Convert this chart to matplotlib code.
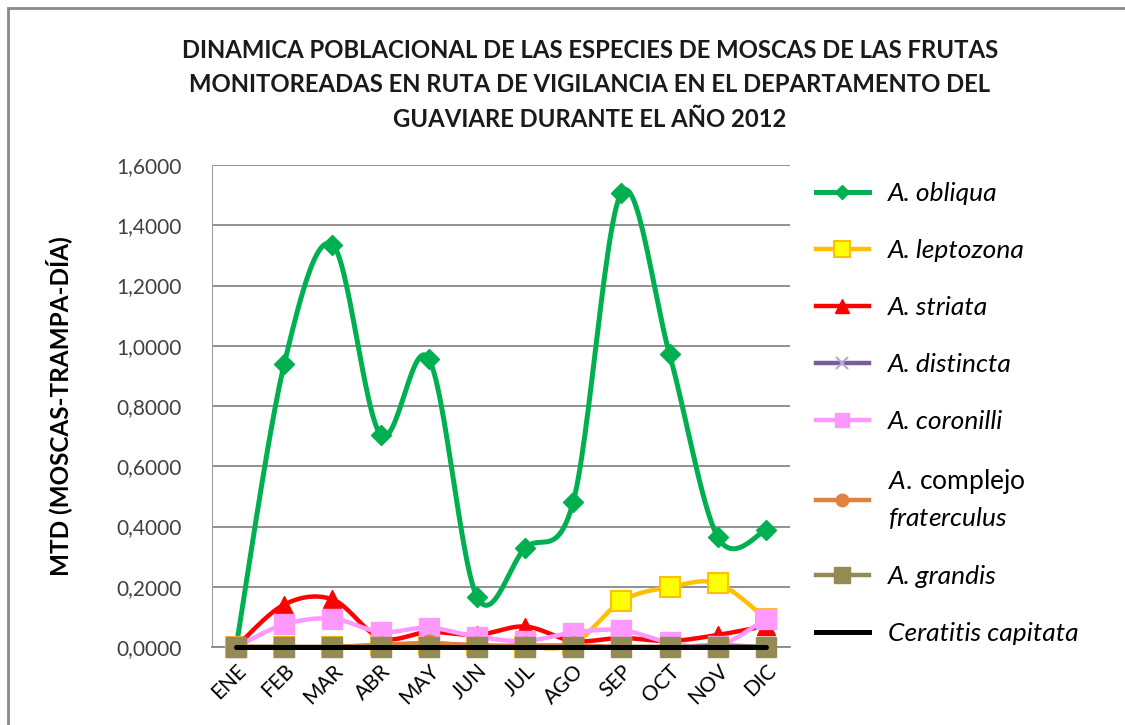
import numpy as np
import matplotlib
matplotlib.use("Agg")
import matplotlib.pyplot as plt
from matplotlib.lines import Line2D
from matplotlib.patches import Rectangle

plt.rcParams['font.family'] = ['Lato', 'DejaVu Sans']
plt.rcParams['mathtext.fontset'] = 'custom'
plt.rcParams['mathtext.it'] = 'Lato:italic'
plt.rcParams['mathtext.rm'] = 'Lato'

months = ["ENE", "FEB", "MAR", "ABR", "MAY", "JUN", "JUL", "AGO", "SEP", "OCT", "NOV", "DIC"]

obliqua     = [0.000, 0.940, 1.336, 0.705, 0.957, 0.167, 0.328, 0.482, 1.508, 0.971, 0.365, 0.387]
leptozona   = [0.000, 0.000, 0.000, 0.005, 0.010, 0.005, 0.000, 0.010, 0.152, 0.199, 0.211, 0.094]
striata     = [0.000, 0.141, 0.158, 0.030, 0.050, 0.040, 0.068, 0.020, 0.030, 0.020, 0.040, 0.070]
distincta   = [0.000, 0.000, 0.000, 0.005, 0.012, 0.005, 0.000, 0.000, 0.000, 0.000, 0.005, 0.000]
coronilli   = [0.000, 0.075, 0.094, 0.050, 0.064, 0.034, 0.020, 0.048, 0.056, 0.015, 0.003, 0.094]
fraterculus = [0.000, 0.000, 0.000, 0.008, 0.012, 0.005, 0.005, 0.005, 0.000, 0.000, 0.000, 0.000]
grandis     = [0.000] * 12
capitata    = [0.000] * 12

labels = ["A. obliqua", "A. leptozona", "A. striata", "A. distincta", "A. coronilli",
          "$\\mathit{A.}\\,\\mathrm{complejo}$\n$\\mathit{fraterculus}$", "A. grandis", "Ceratitis capitata"]

title = ("DINAMICA POBLACIONAL DE LAS ESPECIES DE MOSCAS DE LAS FRUTAS\n"
         "MONITOREADAS EN RUTA DE VIGILANCIA EN EL DEPARTAMENTO DEL\n"
         "GUAVIARE DURANTE EL AÑO 2012")
ylabel = "MTD (MOSCAS-TRAMPA-DÍA)"
yticks = [0.0, 0.2, 0.4, 0.6, 0.8, 1.0, 1.2, 1.4, 1.6]


def smooth(xs, ys, n=30):
    """Catmull-Rom (Excel-like) smoothing through the given points."""
    xs = np.asarray(xs, float)
    ys = np.asarray(ys, float)
    P = np.column_stack([xs, ys])
    P = np.vstack([P[0], P, P[-1]])
    out = []
    t = np.linspace(0, 1, n)[:, None]
    for i in range(1, len(P) - 2):
        p0, p1, p2, p3 = P[i - 1], P[i], P[i + 1], P[i + 2]
        c1 = p1 + (p2 - p0) / 6.0
        c2 = p2 - (p3 - p1) / 6.0
        seg = ((1 - t) ** 3) * p1 + 3 * ((1 - t) ** 2) * t * c1 + 3 * (1 - t) * t ** 2 * c2 + t ** 3 * p2
        out.append(seg if i == 1 else seg[1:])
    out = np.vstack(out)
    return out[:, 0], out[:, 1]


fig = plt.figure(figsize=(11.25, 7.25), dpi=100)
ax = fig.add_axes([212 / 1125, 1 - 647 / 725, (790 - 212) / 1125, (647 - 165) / 725])

x = np.arange(len(months))

series = [
    (obliqua,     dict(color="#00B050", lw=3.6), dict(marker="D", ms=10, mfc="#00B050", mec="#00B050")),
    (leptozona,   dict(color="#FFC000", lw=3.2), dict(marker="s", ms=15, mfc="#FFFF00", mec="#FFC000", mew=1.5)),
    (striata,     dict(color="#FF0000", lw=3.2), dict(marker="^", ms=13, mfc="#FF0000", mec="#FF0000")),
    (distincta,   dict(color="#7A5C9C", lw=3.2), dict(marker="x", ms=12, mfc="#B4A7D6", mec="#B4A7D6", mew=1.5)),
    (coronilli,   dict(color="#FF99FF", lw=3.2), dict(marker="s", ms=14, mfc="#FF99FF", mec="#FF99FF")),
    (fraterculus, dict(color="#E0823D", lw=3.2), dict(marker="o", ms=12, mfc="#E0823D", mec="#E0823D")),
    (grandis,     dict(color="#948A54", lw=3.2), dict(marker="s", ms=15, mfc="#948A54", mec="#948A54")),
    (capitata,    dict(color="#000000", lw=3.6), dict(marker=None)),
]

handles = []
for i, (vals, lstyle, mstyle) in enumerate(series):
    sx, sy = smooth(x, vals)
    ax.plot(sx, sy, solid_capstyle="round", zorder=3 + i, clip_on=False, **lstyle)
    if mstyle.get("marker"):
        ax.plot(x, vals, linestyle="none", zorder=3 + i, clip_on=False, **mstyle)
    h = Line2D([], [], **lstyle, **{k: v for k, v in mstyle.items() if v is not None})
    if mstyle.get("marker"):
        h.set_markersize(mstyle["ms"] * 0.75)
    handles.append(h)

ax.set_xlim(-0.5, len(months) - 0.5)
ax.set_ylim(0, 1.6)
ax.set_yticks(yticks)
ax.set_yticklabels([("%.4f" % v).replace(".", ",") for v in yticks], fontsize=15, color="#404040")
ax.set_xticks(x)
ax.set_xticklabels(months, rotation=45, ha="right", va="top", rotation_mode="anchor", fontsize=15)
ax.tick_params(axis="y", length=0, pad=22)
ax.tick_params(axis="x", length=0, pad=10)
ax.grid(axis="y", color="#888888", lw=1.3)
ax.set_axisbelow(True)
for s in ["top", "right"]:
    ax.spines[s].set_visible(False)
ax.spines["left"].set_color("#A0A0A0")
ax.spines["bottom"].set_color("#888888")
ax.spines["bottom"].set_linewidth(1.3)

ax.set_ylabel(ylabel, fontsize=17.5, fontweight="bold", labelpad=32)

fig.text(590 / 1125, 1 - 85 / 725, title, ha="center", va="center", fontsize=17.2,
         fontweight="bold", linespacing=1.62, color="#1a1a1a")

leg = fig.legend(handles, labels, loc="upper left", bbox_to_anchor=(792 / 1125, 1 - 158 / 725),
                 frameon=False, fontsize=19, handlelength=2.0, handletextpad=0.72,
                 labelspacing=1.29)
for i, t in enumerate(leg.get_texts()):
    if i != 5:
        t.set_style("italic")
    else:
        t.set_linespacing(1.45)

fig.add_artist(Rectangle((8 / 1125, -0.01), 1.2, 1 - 8 / 725 + 0.01, transform=fig.transFigure,
                         fill=False, ec="#888888", lw=2))

fig.savefig("out.png", dpi=100)
